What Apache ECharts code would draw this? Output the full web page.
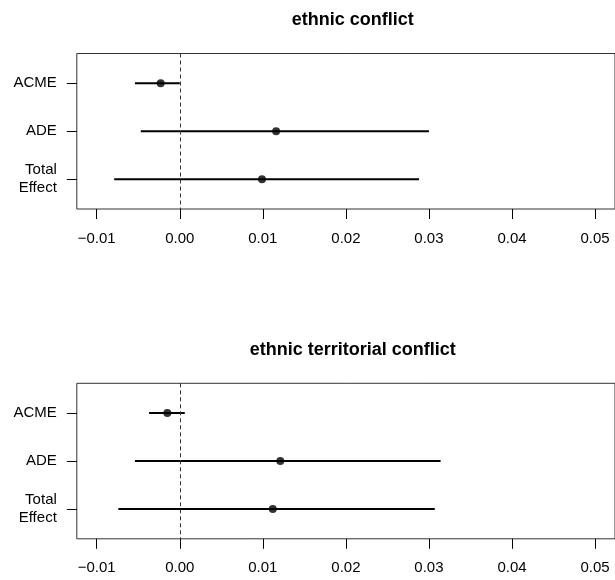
<!DOCTYPE html>
<html>
<head>
<meta charset="utf-8">
<script src="https://cdn.jsdelivr.net/npm/echarts@6/dist/echarts.min.js"></script>
<style>
  html, body { margin: 0; padding: 0; background: #ffffff; }
  #chart { width: 615px; height: 580px; }
</style>
</head>
<body>
<div id="chart"></div>
<script>
// Effect rows (top to bottom) and x-axis ticks
const rowLabels = ['ACME', 'ADE', 'Total\nEffect'];
const rowPositions = [1, 2, 3];
const xTickValues = [-0.01, 0.00, 0.01, 0.02, 0.03, 0.04, 0.05];
const xTickLabels = ['\u22120.01', '0.00', '0.01', '0.02', '0.03', '0.04', '0.05'];

// Panel 1: ethnic conflict
const ethnicTitle = 'ethnic conflict';
const ethnicEstimate = [-0.0023, 0.0116, 0.0099];
const ethnicLower = [-0.0054, -0.0047, -0.0079];
const ethnicUpper = [0.0000, 0.0300, 0.0288];

// Panel 2: ethnic territorial conflict
const territorialTitle = 'ethnic territorial conflict';
const territorialEstimate = [-0.0015, 0.0121, 0.0112];
const territorialLower = [-0.0037, -0.0054, -0.0074];
const territorialUpper = [0.0006, 0.0314, 0.0307];

const FONT = '"Liberation Sans", Arial, Helvetica, sans-serif';
const X_MIN = -0.0124, X_MAX = 0.0524;
const Y_MIN = 0.38, Y_MAX = 3.62;

const panels = [
  { title: ethnicTitle, est: ethnicEstimate, lo: ethnicLower, hi: ethnicUpper, top: 53.5, titleTop: 6 },
  { title: territorialTitle, est: territorialEstimate, lo: territorialLower, hi: territorialUpper, top: 383.3, titleTop: 336.5 }
];

const PLOT_LEFT = 76.8, PLOT_WIDTH = 542, PLOT_HEIGHT = 155.5;

const option = {
  animation: false,
  backgroundColor: '#ffffff',
  title: [],
  grid: [],
  xAxis: [],
  yAxis: [],
  series: []
};

panels.forEach((p, i) => {
  option.title.push({
    text: p.title,
    left: PLOT_LEFT + PLOT_WIDTH / 2,
    top: p.titleTop,
    textAlign: 'center',
    textStyle: { fontFamily: FONT, fontSize: 18, fontWeight: 'bold', color: '#000' }
  });
  option.grid.push({
    left: PLOT_LEFT, top: p.top, width: PLOT_WIDTH, height: PLOT_HEIGHT,
    show: true, borderColor: '#333', borderWidth: 1, backgroundColor: 'transparent'
  });
  option.xAxis.push({
    type: 'value', gridIndex: i, min: X_MIN, max: X_MAX,
    splitLine: { show: false },
    axisLine: { show: false, onZero: false },
    axisTick: { show: true, length: 10, lineStyle: { color: '#000', width: 1 }, customValues: xTickValues },
    axisLabel: {
      show: true, customValues: xTickValues, margin: 22,
      fontFamily: FONT, fontSize: 15, color: '#000',
      formatter: v => {
        const k = xTickValues.findIndex(t => Math.abs(t - v) < 1e-9);
        return k >= 0 ? xTickLabels[k] : '';
      }
    }
  });
  option.yAxis.push({
    type: 'value', gridIndex: i, min: Y_MIN, max: Y_MAX, inverse: true,
    splitLine: { show: false },
    axisLine: { show: false, onZero: false },
    axisTick: { show: true, length: 10, lineStyle: { color: '#000', width: 1 }, customValues: rowPositions },
    axisLabel: {
      show: true, customValues: rowPositions, margin: 20,
      fontFamily: FONT, fontSize: 15, color: '#000', lineHeight: 18, align: 'right',
      formatter: v => {
        const k = rowPositions.indexOf(Math.round(v));
        return k >= 0 ? rowLabels[k] : '';
      }
    }
  });

  // Confidence interval segments
  rowPositions.forEach((r, j) => {
    option.series.push({
      type: 'line', xAxisIndex: i, yAxisIndex: i,
      data: [[p.lo[j], r], [p.hi[j], r]],
      symbol: 'none',
      lineStyle: { color: '#000', width: 2 },
      silent: true,
      z: 3
    });
  });

  // Point estimates plus the zero reference line
  option.series.push({
    type: 'scatter', xAxisIndex: i, yAxisIndex: i,
    data: rowPositions.map((r, j) => [p.est[j], r]),
    symbol: 'circle', symbolSize: 8,
    itemStyle: { color: '#000' },
    silent: true,
    z: 4,
    markLine: {
      silent: true,
      symbol: 'none',
      label: { show: false },
      lineStyle: { color: '#333', width: 1, type: [4, 3] },
      data: [{ xAxis: 0 }]
    }
  });
});

const chart = echarts.init(document.getElementById('chart'), null, { renderer: 'canvas' });
chart.setOption(option);
</script>
</body>
</html>
